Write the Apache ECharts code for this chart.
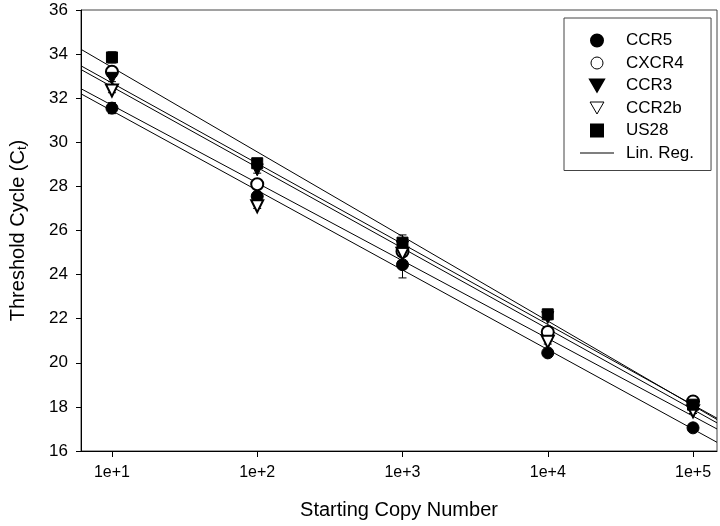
<!DOCTYPE html>
<html>
<head>
<meta charset="utf-8">
<script src="https://cdn.jsdelivr.net/npm/echarts@6/dist/echarts.min.js"></script>
<style>html,body{margin:0;padding:0;background:#fff;}#c{width:720px;height:526px;}</style>
</head>
<body>
<div id="c"></div>
<script>
// Data
const copies = [10, 100, 1000, 10000, 100000];
const xTickLabels = ['1e+1', '1e+2', '1e+3', '1e+4', '1e+5'];
const seriesNames = ['CCR5', 'CXCR4', 'CCR3', 'CCR2b', 'US28'];
const ccr5 = [31.55, 27.55, 24.45, 20.45, 17.05];
const cxcr4 = [33.2, 28.1, 25.05, 21.4, 18.25];
const ccr3 = [32.9, 28.75, 25.25, 22.05, 18.0];
const ccr2b = [32.35, 27.1, 24.95, 20.95, 17.8];
const us28 = [33.85, 29.05, 25.45, 22.2, 18.1];
const ccr5Err = [0.25, 0.15, 0.6, 0.1, 0.15];
const cxcr4Err = [0.15, 0.1, 0.1, 0.1, 0.1];
const ccr3Err = [0.15, 0.15, 0.1, 0.1, 0.1];
const ccr2bErr = [0.1, 0.1, 0.1, 0.1, 0.1];
const us28Err = [0.25, 0.1, 0.35, 0.1, 0.1];
const yTicks = [16, 18, 20, 22, 24, 26, 28, 30, 32, 34, 36];

const allVals = [ccr5, cxcr4, ccr3, ccr2b, us28];
const allErr = [ccr5Err, cxcr4Err, ccr3Err, ccr2bErr, us28Err];
const symbols = ['circle', 'emptyCircle', 'triangle', 'emptyTriangle', 'rect'];
const rotates = [0, 0, 180, 180, 0];
const sizes = [12, 12, 12, 12, 11];

const lx = copies.map(c => Math.log10(c));
const xMin = 0.787, xMax = 5.165;

function fit(ys) {
  const n = ys.length;
  const mx = lx.reduce((a, b) => a + b, 0) / n;
  const my = ys.reduce((a, b) => a + b, 0) / n;
  let sxy = 0, sxx = 0;
  for (let i = 0; i < n; i++) { sxy += (lx[i] - mx) * (ys[i] - my); sxx += (lx[i] - mx) ** 2; }
  const b = sxy / sxx, a = my - b * mx;
  return [[xMin, a + b * xMin], [xMax, a + b * xMax]];
}

const FONT = 'Liberation Sans, Arial, sans-serif';
const series = [];
allVals.forEach((vals, k) => {
  series.push({
    name: 'Lin. Reg.', type: 'line', data: fit(vals), symbol: 'none', showSymbol: false,
    lineStyle: { color: '#000', width: 1 }, itemStyle: { color: '#000' },
    silent: true, animation: false, z: 1
  });
});
allVals.forEach((vals, k) => {
  series.push({
    name: seriesNames[k] + '_err', type: 'custom', animation: false, z: 2, silent: true,
    data: vals.map((v, i) => [lx[i], v - allErr[k][i], v + allErr[k][i]]),
    renderItem: function (params, api) {
      const lo = api.coord([api.value(0), api.value(1)]);
      const hi = api.coord([api.value(0), api.value(2)]);
      const w = 4;
      const st = { stroke: '#000', lineWidth: 1 };
      return { type: 'group', children: [
        { type: 'line', shape: { x1: lo[0], y1: lo[1], x2: hi[0], y2: hi[1] }, style: st },
        { type: 'line', shape: { x1: lo[0] - w, y1: lo[1], x2: lo[0] + w, y2: lo[1] }, style: st },
        { type: 'line', shape: { x1: hi[0] - w, y1: hi[1], x2: hi[0] + w, y2: hi[1] }, style: st }
      ]};
    }
  });
});
allVals.forEach((vals, k) => {
  series.push({
    name: seriesNames[k], type: 'scatter', animation: false, z: 3,
    data: vals.map((v, i) => [lx[i], v]),
    symbol: symbols[k], symbolRotate: rotates[k], symbolSize: sizes[k],
    itemStyle: { color: '#000', borderColor: '#000', borderWidth: 1, opacity: 1 }
  });
});

const downTri = 'path://M0,0L12,0L6,10.4Z';
const legendData = [
  { name: 'CCR5', icon: 'circle', itemStyle: { color: '#000' } },
  { name: 'CXCR4', icon: 'circle', itemStyle: { color: '#fff', borderColor: '#000', borderWidth: 1 } },
  { name: 'CCR3', icon: downTri, itemStyle: { color: '#000' } },
  { name: 'CCR2b', icon: downTri, itemStyle: { color: '#fff', borderColor: '#000', borderWidth: 1 } },
  { name: 'US28', icon: 'path://M0,0L11,0L11,11L0,11Z', itemStyle: { color: '#000' } },
  { name: 'Lin. Reg.', icon: 'path://M0,0L34,0L34,1L0,1Z', itemStyle: { color: '#000' } }
];

const chart = echarts.init(document.getElementById('c'), null, { renderer: 'canvas' });
chart.setOption({
  backgroundColor: '#fff',
  animation: false,
  textStyle: { fontFamily: FONT },
  grid: { left: 80, top: 10, right: 3, bottom: 75, show: true, borderColor: '#444', borderWidth: 1, backgroundColor: 'transparent' },
  legend: {
    data: legendData,
    orient: 'vertical', left: 564, top: 18,
    itemWidth: 34, itemHeight: 12, itemGap: 5.5,
    symbolKeepAspect: true, symbolRotate: 0,
    padding: [14, 17, 9, 16],
    borderColor: '#444', borderWidth: 1, backgroundColor: '#fff',
    textStyle: { fontFamily: FONT, fontSize: 17, lineHeight: 16, color: '#000', padding: [0, 0, 0, 7] },
    selectedMode: false
  },
  xAxis: {
    type: 'value', min: xMin, max: xMax,
    name: 'Starting Copy Number', nameLocation: 'middle', nameGap: 49,
    nameTextStyle: { fontFamily: FONT, fontSize: 20, color: '#000' },
    axisLine: { show: true, lineStyle: { color: '#000', width: 1 } },
    axisTick: { show: true, inside: false, length: 6, customValues: lx, lineStyle: { color: '#000' } },
    axisLabel: { customValues: lx, margin: 14, fontFamily: FONT, fontSize: 16, color: '#000',
      formatter: v => xTickLabels[lx.findIndex(t => Math.abs(t - v) < 1e-6)] || '' },
    splitLine: { show: false }
  },
  yAxis: {
    type: 'value', min: 16, max: 36, interval: 2,
    name: '{a|Threshold Cycle (C}{s|t}{a|)}', nameLocation: 'middle', nameGap: 52, nameRotate: 90,
    nameTextStyle: { fontFamily: FONT, fontSize: 20, color: '#000',
      rich: { a: { fontFamily: FONT, fontSize: 20, color: '#000' }, s: { fontFamily: FONT, fontSize: 13, color: '#000', padding: [9, 0, 0, 0] } } },
    axisLine: { show: true, lineStyle: { color: '#000', width: 1 } },
    axisTick: { show: true, inside: false, length: 5, lineStyle: { color: '#000' } },
    axisLabel: { margin: 13, fontFamily: FONT, fontSize: 17, color: '#000',
      customValues: yTicks },
    splitLine: { show: false }
  },
  series: series
});
</script>
</body>
</html>
